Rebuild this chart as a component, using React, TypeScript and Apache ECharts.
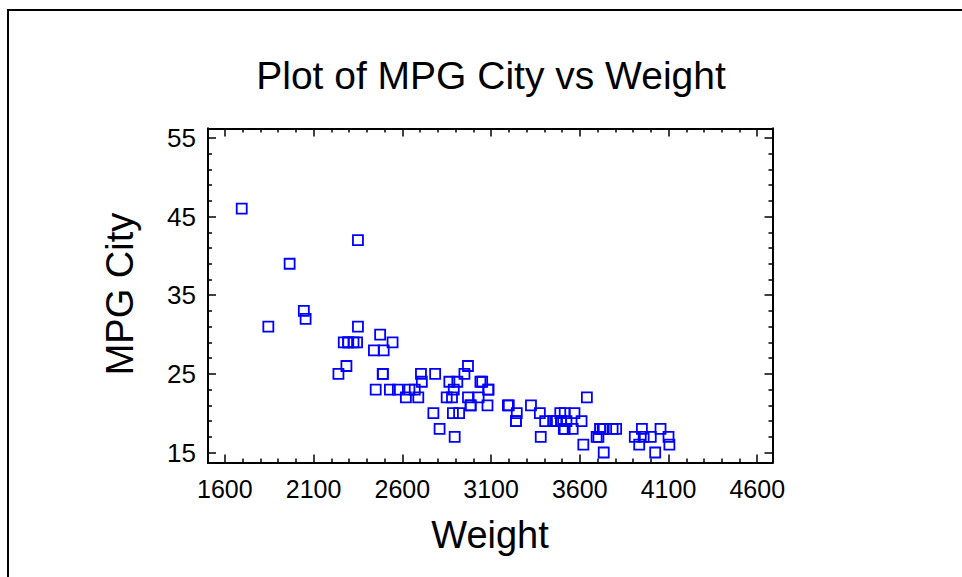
import React, { useEffect, useRef } from "react";
import * as echarts from "echarts";

// Weight (lb) and MPG City for 93 cars
const weight = [
  2705, 3560, 3375, 3405, 3640, 2880, 3470, 4105, 3495, 3620,
  3935, 2490, 2785, 3240, 3195, 3715, 4025, 3910, 3380, 3515,
  3085, 3570, 2270, 2670, 2970, 3705, 3080, 3805, 2295, 3490,
  1845, 2530, 2690, 2850, 2710, 3735, 3325, 3950, 1695, 2475,
  2865, 2350, 3040, 2345, 2620, 2285, 2885, 4000, 3510, 3515,
  3695, 4055, 2325, 2440, 2970, 3735, 2895, 2920, 3525, 2450,
  3610, 2295, 3730, 2545, 3050, 4100, 3200, 2910, 2890, 3715,
  3470, 2640, 2350, 2575, 3240, 3450, 3495, 2775, 2495, 2045,
  2490, 3085, 1965, 2055, 2950, 3030, 3785, 2240, 3960, 2985,
  2810, 2985, 3245,
];
const mpgCity = [
  25, 18, 20, 19, 22, 22, 19, 16, 19, 16,
  16, 25, 25, 19, 21, 18, 15, 17, 17, 20,
  23, 20, 29, 23, 22, 17, 21, 18, 29, 20,
  31, 23, 22, 22, 24, 15, 21, 18, 46, 30,
  24, 42, 24, 29, 22, 26, 20, 17, 18, 18,
  17, 18, 29, 28, 26, 18, 17, 20, 19, 23,
  19, 29, 18, 29, 24, 17, 21, 24, 23, 18,
  19, 23, 31, 23, 19, 19, 19, 20, 28, 33,
  25, 23, 39, 32, 25, 22, 18, 25, 17, 21,
  18, 21, 20,
];

const xMajorTicks = [1600, 2100, 2600, 3100, 3600, 4100, 4600];
const xMinorTicks = [
  1700, 1800, 1900, 2000, 2200, 2300, 2400, 2500, 2700, 2800, 2900, 3000,
  3200, 3300, 3400, 3500, 3700, 3800, 3900, 4000, 4200, 4300, 4400, 4500,
];
const yMajorTicks = [15, 25, 35, 45, 55];
const yMinorTicks = [17, 19, 21, 23, 27, 29, 31, 33, 37, 39, 41, 43, 47, 49, 51, 53];

const X_MIN = 1505;
const X_MAX = 4686;
const Y_MIN = 13.73;
const Y_MAX = 56.2;

const FONT = "'Liberation Sans', Arial, Helvetica, sans-serif";

export default function App() {
  const ref = useRef<HTMLDivElement>(null);
  useEffect(() => {
    if (!ref.current) return;
    const chart = echarts.init(ref.current, null, { renderer: "svg" });
    const axisLine = { show: true, onZero: false, lineStyle: { color: "#000", width: 2 } };
    const tickStyle = { color: "#000", width: 1.5 };
    const fmt = (v: number) => String(v);
    const mkX = (position: string, ticks: number[], len: number, labels: boolean) => ({
      type: "value",
      position,
      min: X_MIN,
      max: X_MAX,
      axisLine,
      axisTick: { show: true, inside: true, length: len, customValues: ticks, lineStyle: tickStyle },
      axisLabel: labels
        ? { show: true, customValues: ticks, formatter: fmt, margin: 14, fontSize: 25, fontFamily: FONT, color: "#000" }
        : { show: false },
      splitLine: { show: false },
    });
    const mkY = (position: string, ticks: number[], len: number, labels: boolean) => ({
      type: "value",
      position,
      min: Y_MIN,
      max: Y_MAX,
      axisLine,
      axisTick: { show: true, inside: true, length: len, customValues: ticks, lineStyle: tickStyle },
      axisLabel: labels
        ? { show: true, customValues: ticks, formatter: fmt, margin: 12, fontSize: 26, fontFamily: FONT, color: "#000" }
        : { show: false },
      splitLine: { show: false },
    });
    const points = weight.map((w, i) => [w, mpgCity[i]]);
    chart.setOption({
      animation: false,
      backgroundColor: "#fff",
      grid: { left: 208, top: 128.5, width: 564.5, height: 334, containLabel: false },
      xAxis: [
        mkX("bottom", xMajorTicks, 8, true),
        mkX("bottom", xMinorTicks, 4, false),
        mkX("top", xMajorTicks, 8, false),
        mkX("top", xMinorTicks, 4, false),
      ],
      yAxis: [
        mkY("left", yMajorTicks, 8, true),
        mkY("left", yMinorTicks, 4, false),
        mkY("right", yMajorTicks, 8, false),
        mkY("right", yMinorTicks, 4, false),
      ],
      graphic: [
        {
          type: "rect",
          shape: { x: 8, y: 10, width: 1200, height: 1200 },
          style: { fill: "none", stroke: "#000", lineWidth: 2 },
          silent: true,
          z: -10,
        },
        {
          type: "text",
          x: 491,
          y: 75,
          style: { text: "Plot of MPG City vs Weight", fontSize: 39, fontFamily: FONT, fill: "#000", textAlign: "center", textVerticalAlign: "middle" },
        },
        {
          type: "text",
          x: 490,
          y: 535,
          style: { text: "Weight", fontSize: 38, fontFamily: FONT, fill: "#000", textAlign: "center", textVerticalAlign: "middle" },
        },
        {
          type: "text",
          x: 120,
          y: 294,
          rotation: Math.PI / 2,
          style: { text: "MPG City", fontSize: 38, fontFamily: FONT, fill: "#000", textAlign: "center", textVerticalAlign: "middle" },
        },
      ],
      series: [
        {
          type: "scatter",
          xAxisIndex: 0,
          yAxisIndex: 0,
          data: points,
          symbol: "rect",
          symbolSize: 10,
          itemStyle: { color: "rgba(0,0,0,0)", borderColor: "#0000ff", borderWidth: 1.8, opacity: 1 },
          emphasis: { disabled: true },
        },
      ],
    });
    return () => chart.dispose();
  }, []);
  return <div ref={ref} style={{ position: "absolute", left: 0, top: 0, width: 962, height: 577 }} />;
}
